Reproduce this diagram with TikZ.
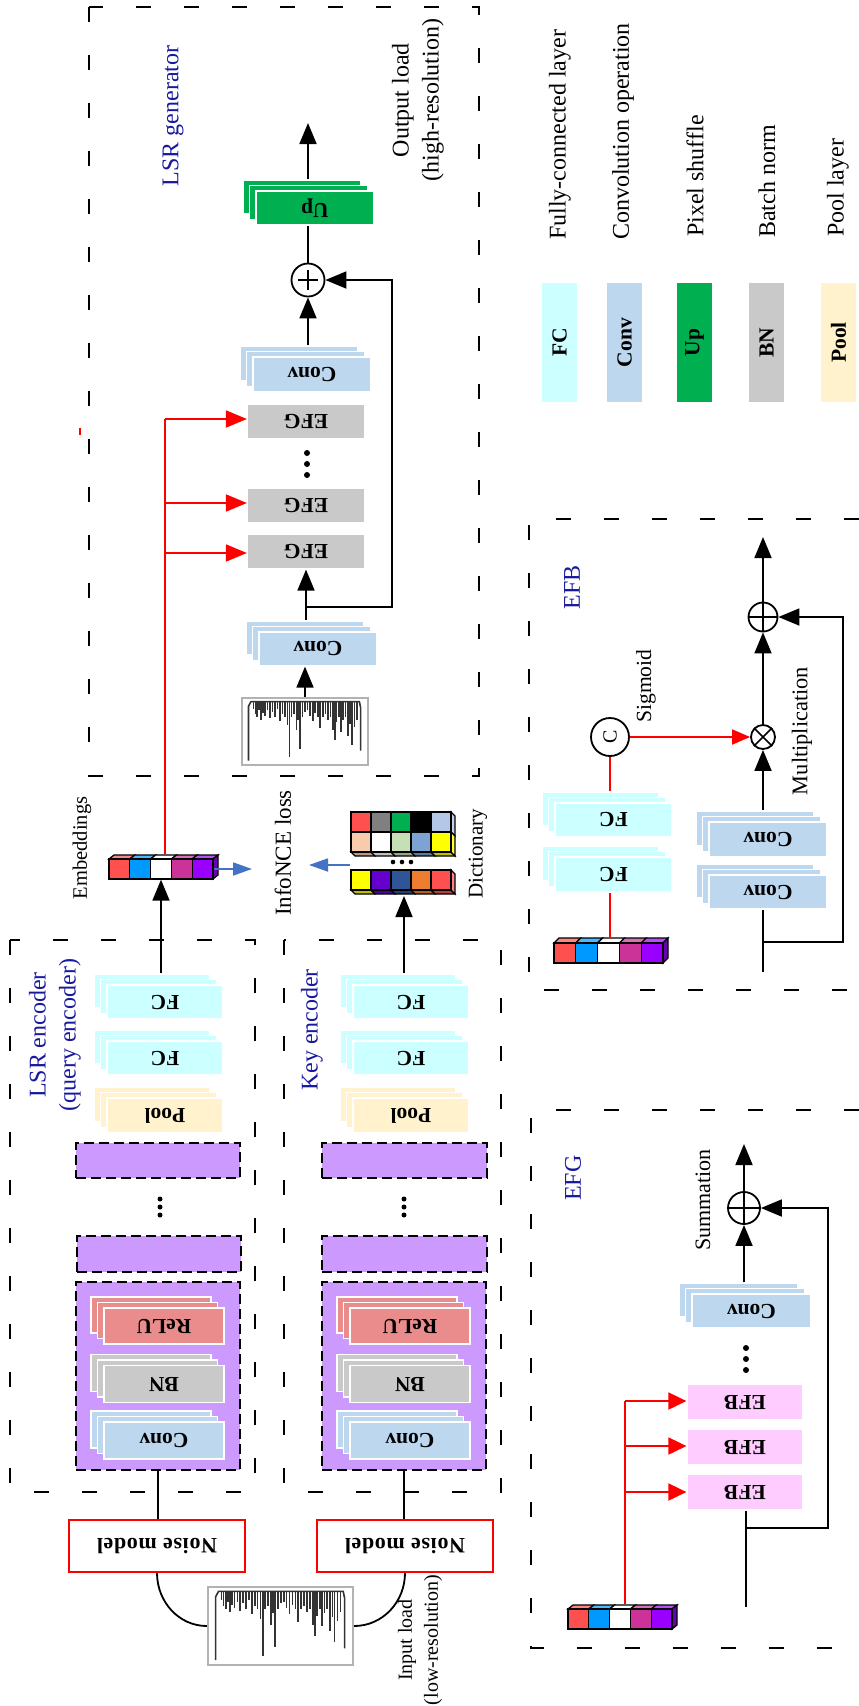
\documentclass[tikz,border=0pt]{standalone}
\usepackage{fontspec}
\setmainfont{Liberation Serif}
\newfontfamily\spacedfont[LetterSpace=3]{Liberation Serif}
\usepackage{graphicx}
\usetikzlibrary{arrows.meta,calc}
\definecolor{colFC}{HTML}{CCFFFF}
\definecolor{colConv}{HTML}{BDD7EE}
\definecolor{colUp}{HTML}{00B050}
\definecolor{colBN}{HTML}{C9C9C9}
\definecolor{colPool}{HTML}{FFF2CC}
\definecolor{colReLU}{HTML}{EA8C8C}
\definecolor{colEFB}{HTML}{FFCCFF}
\definecolor{purp}{HTML}{CC99FF}
\definecolor{navy}{RGB}{25,25,160}
\definecolor{arrblue}{HTML}{4472C4}
\definecolor{er}{HTML}{FF5050}
\definecolor{eb}{HTML}{0099FF}
\definecolor{ew}{HTML}{FFFFFF}
\definecolor{em}{HTML}{CC3399}
\definecolor{ep}{HTML}{9900FF}
\definecolor{dgray}{HTML}{808080}
\definecolor{dgreen}{HTML}{00B050}
\definecolor{dblack}{HTML}{000000}
\definecolor{dlblue}{HTML}{B4C7E7}
\definecolor{dpeach}{HTML}{F8CBAD}
\definecolor{dlgreen}{HTML}{C5E0B4}
\definecolor{dsteel}{HTML}{7BA3D3}
\definecolor{dyel}{HTML}{FFFF00}
\definecolor{dviol}{HTML}{6600CC}
\definecolor{ddblue}{HTML}{2F5597}
\definecolor{dorange}{HTML}{ED7D31}
\tikzset{
  lay/.style={rectangle, inner sep=0pt, minimum width=118pt, minimum height=35pt, draw=white, line width=1.2pt, font=\fontsize{21.5}{25}\selectfont\bfseries},
  dbox/.style={draw=black, line width=1.8pt, dash pattern=on 15pt off 33pt},
  pbox/.style={rectangle, inner sep=0pt, fill=purp, draw=black, line width=1.8pt, dash pattern=on 10pt off 5pt},
  arr/.style={line width=1.8pt, -{Triangle[length=21pt,width=17pt]}},
  rarr/.style={draw=red, line width=1.8pt, -{Triangle[length=21pt,width=17pt]}},
  barr/.style={draw=arrblue, line width=1.8pt, -{Triangle[length=19pt,width=13pt]}},
  lbl/.style={rotate=90, font=\fontsize{24}{30}\selectfont, align=center, inner sep=0pt},
  blbl/.style={lbl, text=navy},
  plusc/.style={circle, draw=black, line width=1.8pt, inner sep=0pt, fill=white},
  cell/.style={rectangle, inner sep=0pt, minimum width=20pt, minimum height=20pt, draw=black, line width=1.3pt},
  noise/.style={rectangle, inner sep=0pt, minimum width=176pt, minimum height=52pt, draw=red, line width=2pt, fill=white, font=\spacedfont\fontsize{22}{26}\selectfont\bfseries},
  imgbox/.style={rectangle, inner sep=0pt, draw=black!30, line width=2.2pt, fill=white},
  legbox/.style={rectangle, inner sep=0pt, minimum width=35pt, minimum height=119pt, font=\fontsize{21.5}{25}\selectfont\bfseries},
  blk/.style={line width=1.8pt},
  rln/.style={draw=red, line width=1.8pt}
}
\newcommand\bt[1]{\rotatebox{180}{#1}}
% stack: name, x, y, colour, text, width, height
\newcommand\stk[7]{%
  \node[lay, minimum width=#6pt, minimum height=#7pt, fill=#4] (#1c) at (#2-13,#3-11) {};
  \node[lay, minimum width=#6pt, minimum height=#7pt, fill=#4] (#1b) at (#2-6.5,#3-5.5) {};
  \node[lay, minimum width=#6pt, minimum height=#7pt, fill=#4] (#1) at (#2,#3) {\bt{#5}};
}
% embeddings row: prefix, x0, ytop, cell width, depth dx, depth dy
\newcommand\embrow[6]{%
  \foreach \c [count=\i from 1] in {er,eb,ew,em,ep}{%
    \pgfmathsetmacro\xa{#2+(\i-1)*#4}
    \draw[line width=1.3pt, fill=\c!70] (\xa,#3) -- ++(#5,-#6) -- ++(#4,0) -- ++(-#5,#6) -- cycle;
  }
  \pgfmathsetmacro\xe{#2+5*#4}
  \draw[line width=1.3pt, fill=ep!70!black] (\xe,#3) -- ++(#5,-#6) -- ++(0,20) -- ++(-#5,#6) -- cycle;
  \foreach \c [count=\i from 1] in {er,eb,ew,em,ep}{%
    \node[cell, minimum width=#4pt, fill=\c] (#1\i) at ({#2+(\i-0.5)*#4},{#3+10}) {};
  }
}
% waveform inside an image node
\newcommand\wave[3]{%
  \begin{scope}[shift={(#1.north west)}, x=#2pt, y=-#3pt, line width=1.6pt, black!80]
    \draw (0.06,0.95) -- (0.06,0.14) -- (0.08,0.07) -- (0.94,0.07) -- (0.95,0.16) -- (0.95,0.80);
    \foreach \u/\d in {0.10/0.18,0.115/0.26,0.13/0.3,0.145/0.2,0.16/0.34,0.175/0.24,0.19/0.28,0.21/0.2,0.23/0.32,0.25/0.22,0.27/0.3,0.29/0.18,0.31/0.36,0.33/0.26,0.35/0.3,0.37/0.42,0.385/0.9,0.40/0.3,0.42/0.26,0.44/0.5,0.455/0.35,0.47/0.78,0.49/0.3,0.51/0.22,0.53/0.2,0.55/0.28,0.57/0.36,0.59/0.24,0.61/0.3,0.63/0.46,0.65/0.3,0.67/0.26,0.69/0.34,0.71/0.3,0.73/0.5,0.745/0.64,0.76/0.38,0.78/0.3,0.795/0.52,0.81/0.35,0.83/0.3,0.85/0.58,0.865/0.4,0.88/0.72,0.90/0.45,0.92/0.34}
      \draw (\u,0.07) -- (\u,\d);
  \end{scope}
}
\begin{document}
\begin{tikzpicture}[x=1pt,y=-1pt]
\useasboundingbox (0,0) rectangle (859,1706);
\fill[white] (0,0) rectangle (859,1706);

%%%%% LSR generator
\draw[dbox] (89,7) rectangle (479,776);
\node[blbl] (tgen) at (173,116) {LSR generator};
\node[lbl] (tout) at (418,100) {Output load\\(high-resolution)};
\stk{up}{315}{208}{colUp}{Up}{118}{34}
\coordinate (outtip) at (308,123);
\draw[arr] (upc.north -| outtip) -- (outtip);
\node[plusc, minimum size=33pt] (pg) at (308,280) {};
\draw[line width=1.5pt] ($(pg.center)+(-10,0)$) -- ($(pg.center)+(10,0)$) ($(pg.center)+(0,-10)$) -- ($(pg.center)+(0,10)$);
\draw[blk] (up.south -| pg) -- (pg.north);
\stk{cu}{312}{374.5}{colConv}{Conv}{118}{35}
\draw[arr] (cuc.north -| pg) -- (pg.south);
\node[lay, fill=colBN, minimum width=117pt] (efg1) at (306,421.5) {\bt{EFG}};
\fill (307,453) circle[radius=3pt] (307,464) circle[radius=3pt] (307,475) circle[radius=3pt];
\node[lay, fill=colBN, minimum width=117pt] (efg2) at (306,505.5) {\bt{EFG}};
\node[lay, fill=colBN, minimum width=117pt] (efg3) at (306,551.5) {\bt{EFG}};
\stk{cl}{318}{649}{colConv}{Conv}{118}{34}
\draw[arr] (clc.north -| efg3) -- (efg3.south);
\coordinate (jg) at (306,607);
\draw[arr] (jg) -- (392,607) |- (pg.east);
\node[imgbox, minimum width=126pt, minimum height=67pt] (img1) at (305,731.5) {};
\wave{img1}{126}{67}
\draw[arr] (img1.north) -- (img1.north |- cl.south);
\draw[red, line width=1.5pt] (80,428) -- (80,435);

%%%%% LSR encoder
\draw[dbox] (10,940) rectangle (255,1492);
\node[blbl] (tlsr) at (55,1035) {LSR encoder\\(query encoder)};
\stk{lfa}{165}{1002}{colFC}{FC}{116}{34}
\stk{lfb}{165}{1058}{colFC}{FC}{116}{34}
\stk{lpo}{165}{1115.5}{colPool}{Pool}{116}{35}
\node[pbox, minimum width=164pt, minimum height=35pt] (lp1) at (158,1160.5) {};
\fill (160,1199) circle[radius=2.5pt] (160,1207) circle[radius=2.5pt] (160,1215) circle[radius=2.5pt];
\node[pbox, minimum width=164pt, minimum height=36pt] (lp2) at (159,1254) {};
\node[pbox, minimum width=164pt, minimum height=188pt] (lp3) at (158,1376) {};
\stk{lre}{164}{1326}{colReLU}{ReLU}{120}{36}
\stk{lbn}{164}{1384}{colBN}{BN}{120}{37}
\stk{lcv}{164}{1440.5}{colConv}{Conv}{120}{37}
\node[noise] (n1) at (157,1546) {\bt{Noise model}};
\draw[blk] (lp3.south) -- (lp3.south |- n1.north);

%%%%% Key encoder
\draw[dbox] (284,940) rectangle (501,1492);
\node[blbl] (tkey) at (312,1030) {Key encoder};
\stk{kfa}{411}{1002}{colFC}{FC}{116}{34}
\stk{kfb}{411}{1058}{colFC}{FC}{116}{34}
\stk{kpo}{411}{1115.5}{colPool}{Pool}{116}{35}
\node[pbox, minimum width=165pt, minimum height=35pt] (kp1) at (404.5,1160.5) {};
\fill (404,1199) circle[radius=2.5pt] (404,1207) circle[radius=2.5pt] (404,1215) circle[radius=2.5pt];
\node[pbox, minimum width=165pt, minimum height=36pt] (kp2) at (404.5,1254) {};
\node[pbox, minimum width=164pt, minimum height=188pt] (kp3) at (404,1376) {};
\stk{kre}{410}{1326}{colReLU}{ReLU}{120}{36}
\stk{kbn}{410}{1384}{colBN}{BN}{120}{37}
\stk{kcv}{410}{1440.5}{colConv}{Conv}{120}{37}
\node[noise] (n2) at (405,1546) {\bt{Noise model}};
\draw[blk] (kp3.south) -- (kp3.south |- n2.north);

%%%%% input load
\node[imgbox, minimum width=145pt, minimum height=78pt] (img2) at (280.5,1626) {};
\wave{img2}{145}{78}
\draw[blk] (n1.south) to[out=-90,in=180] (img2.west);
\draw[blk] (img2.east) to[out=0,in=-90] (n2.south);
\node[lbl, font=\fontsize{20}{26}\selectfont] (tin) at (420,1640) {Input load\\(low-resolution)};

%%%%% embeddings
\embrow{le}{109}{859}{20.8}{5}{4}
\node[lbl, font=\fontsize{20.5}{25}\selectfont] (temb) at (82,848) {Embeddings};
\draw[arr] (lfac.north -| le3.south) -- (le3.south);
\coordinate (lossR) at (252,869);
\draw[barr] (le5.east) -- (lossR);
\coordinate (r1) at (165,419);
\coordinate (r2) at (165,503);
\coordinate (r3) at (165,553);
\draw[rln] ($(le3.north)+(4,-4)$) -- (r1);
\draw[rarr] (r1) -- (r1 -| efg1.west);
\draw[rarr] (r2) -- (r2 -| efg2.west);
\draw[rarr] (r3) -- (r3 -| efg3.west);

%%%%% dictionary
\foreach \c [count=\i from 0] in {dpeach,ew,dlgreen,dsteel,dyel}{%
  \draw[line width=1.2pt, fill=\c!75!black] ({351+20*\i},852) -- ++(4,4) -- ++(20,0) -- ++(-4,-4) -- cycle;
}
\foreach \c [count=\i from 0] in {dyel,dviol,ddblue,dorange,er}{%
  \draw[line width=1.2pt, fill=\c!75!black] ({351+20*\i},890) -- ++(4,4) -- ++(20,0) -- ++(-4,-4) -- cycle;
}
\draw[line width=1.2pt, fill=dlblue!80] (451,812) -- ++(4,4) -- ++(0,20) -- ++(-4,-4) -- cycle;
\draw[line width=1.2pt, fill=dyel!80] (451,832) -- ++(4,4) -- ++(0,20) -- ++(-4,-4) -- cycle;
\draw[line width=1.2pt, fill=er!70] (451,870) -- ++(4,4) -- ++(0,20) -- ++(-4,-4) -- cycle;
\foreach \c [count=\i from 1] in {er,dgray,dgreen,dblack,dlblue}{%
  \node[cell, fill=\c] (da\i) at ({341+20*\i},822) {};
}
\foreach \c [count=\i from 1] in {dpeach,ew,dlgreen,dsteel,dyel}{%
  \node[cell, fill=\c] (db\i) at ({341+20*\i},842) {};
}
\foreach \c [count=\i from 1] in {dyel,dviol,ddblue,dorange,er}{%
  \node[cell, fill=\c] (dc\i) at ({341+20*\i},880) {};
}
\fill (393,862) circle[radius=2.3pt] (402,862) circle[radius=2.3pt] (411,862) circle[radius=2.3pt];
\node[lbl, font=\fontsize{21}{26}\selectfont] (tdict) at (478,854) {Dictionary};
\node[lbl, font=\fontsize{23}{28}\selectfont] (tloss) at (283,853) {InfoNCE loss};
\coordinate (dictin) at (404,896);
\draw[arr] (kfac.north -| dictin) -- (dictin);
\coordinate (dictL) at (350,865);
\coordinate (lossL) at (309,865);
\draw[barr] (dictL) -- (lossL);

%%%%% legend
\node[legbox, fill=colFC] (lg1) at (559.5,342.5) {\rotatebox{90}{FC}};
\node[legbox, fill=colConv] (lg2) at (624.5,342.5) {\rotatebox{90}{Conv}};
\node[legbox, fill=colUp] (lg3) at (694.5,342.5) {\rotatebox{90}{Up}};
\node[legbox, fill=colBN] (lg4) at (766.5,342.5) {\rotatebox{90}{BN}};
\node[legbox, fill=colPool] (lg5) at (838.5,342.5) {\rotatebox{90}{Pool}};
\node[lbl, anchor=west] (lt1) at (560,240) {Fully-connected layer};
\node[lbl, anchor=west] (lt2) at (623,240) {Convolution operation};
\node[lbl, anchor=west] (lt3) at (695,237) {Pixel shuffle};
\node[lbl, anchor=west] (lt4) at (767,238) {Batch norm};
\node[lbl, anchor=west] (lt5) at (838,237) {Pool layer};

%%%%% EFB
\draw[dbox] (859,519) -- (529,519) -- (529,990) -- (859,990);
\node[blbl] (tefb) at (572,587) {EFB};
\node[plusc, minimum size=29pt] (pb) at (763,617) {};
\draw[line width=1.6pt] (pb.north) -- (pb.south) (pb.west) -- (pb.east);
\coordinate (outb) at (763,537);
\draw[arr] (pb.north) -- (outb);
\node[plusc, minimum size=24pt] (mb) at (763,737) {};
\draw[line width=1.6pt] (mb.north east) -- (mb.south west) (mb.north west) -- (mb.south east);
\draw[arr] (mb.north) -- (pb.south);
\stk{bca}{768}{839.5}{colConv}{Conv}{118}{35}
\stk{bcb}{768}{892}{colConv}{Conv}{118}{34}
\draw[arr] (bcac.north -| mb) -- (mb.south);
\coordinate (inb) at (763,972);
\coordinate (jb) at (763,942);
\draw[blk] (inb) -- (inb |- bcb.south);
\draw[arr] (jb) -- (843,942) |- (pb.east);
\node[lbl, font=\fontsize{22.4}{27}\selectfont] (tmul) at (802,731) {Multiplication};
\node[plusc, minimum size=38pt] (sg) at (610,737) {\rotatebox{90}{\fontsize{20}{24}\selectfont C}};
\node[lbl, font=\fontsize{21.6}{26}\selectfont] (tsig) at (646,686) {Sigmoid};
\draw[draw=red, line width=1.8pt, -{Triangle[length=18pt,width=15pt]}] (sg.east) -- (mb.west);
\stk{bfa}{613.5}{820}{colFC}{FC}{117}{34}
\stk{bfb}{613.5}{874.5}{colFC}{FC}{117}{35}
\draw[rln] (bfac.north -| sg) -- (sg.south);
\embrow{be}{554}{943}{21.8}{5}{5}
\draw[rln] ($(be3.north)+(1.5,-5)$) -- (bfb.south -| sg);

%%%%% EFG
\draw[dbox] (859,1110) -- (531,1110) -- (531,1648) -- (859,1648);
\node[blbl] (tefg) at (573,1178) {EFG};
\node[plusc, minimum size=32pt] (pe) at (744,1208) {};
\draw[line width=1.6pt] (pe.north) -- (pe.south) (pe.west) -- (pe.east);
\coordinate (oute) at (744,1144);
\draw[arr] (pe.north) -- (oute);
\node[lbl, font=\fontsize{22}{27}\selectfont] (tsum) at (703,1200) {Summation};
\stk{ec}{751.5}{1311}{colConv}{Conv}{119}{34}
\draw[arr] (ecc.north -| pe) -- (pe.south);
\fill (746,1348) circle[radius=3pt] (746,1359) circle[radius=3pt] (746,1370) circle[radius=3pt];
\node[lay, fill=colEFB, minimum width=116pt, minimum height=36pt] (eba) at (745,1402) {\bt{EFB}};
\node[lay, fill=colEFB, minimum width=116pt, minimum height=36pt] (ebb) at (745,1447) {\bt{EFB}};
\node[lay, fill=colEFB, minimum width=116pt, minimum height=36pt] (ebc) at (745,1492) {\bt{EFB}};
\coordinate (ine) at (746,1607);
\coordinate (je) at (746,1528);
\draw[blk] (ine) -- (ine |- ebc.south);
\draw[arr] (je) -- (828,1528) |- (pe.east);
\embrow{ee}{568}{1609}{20.8}{5}{4}
\coordinate (q1) at (625,1401);
\coordinate (q2) at (625,1446);
\coordinate (q3) at (625,1492);
\draw[rln] ($(ee3.north)+(5,-4)$) -- (q1);
\draw[draw=red, line width=1.8pt, -{Triangle[length=18pt,width=17pt]}] (q1) -- (q1 -| eba.west);
\draw[draw=red, line width=1.8pt, -{Triangle[length=18pt,width=17pt]}] (q2) -- (q2 -| ebb.west);
\draw[draw=red, line width=1.8pt, -{Triangle[length=18pt,width=17pt]}] (q3) -- (q3 -| ebc.west);
\end{tikzpicture}
\end{document}
